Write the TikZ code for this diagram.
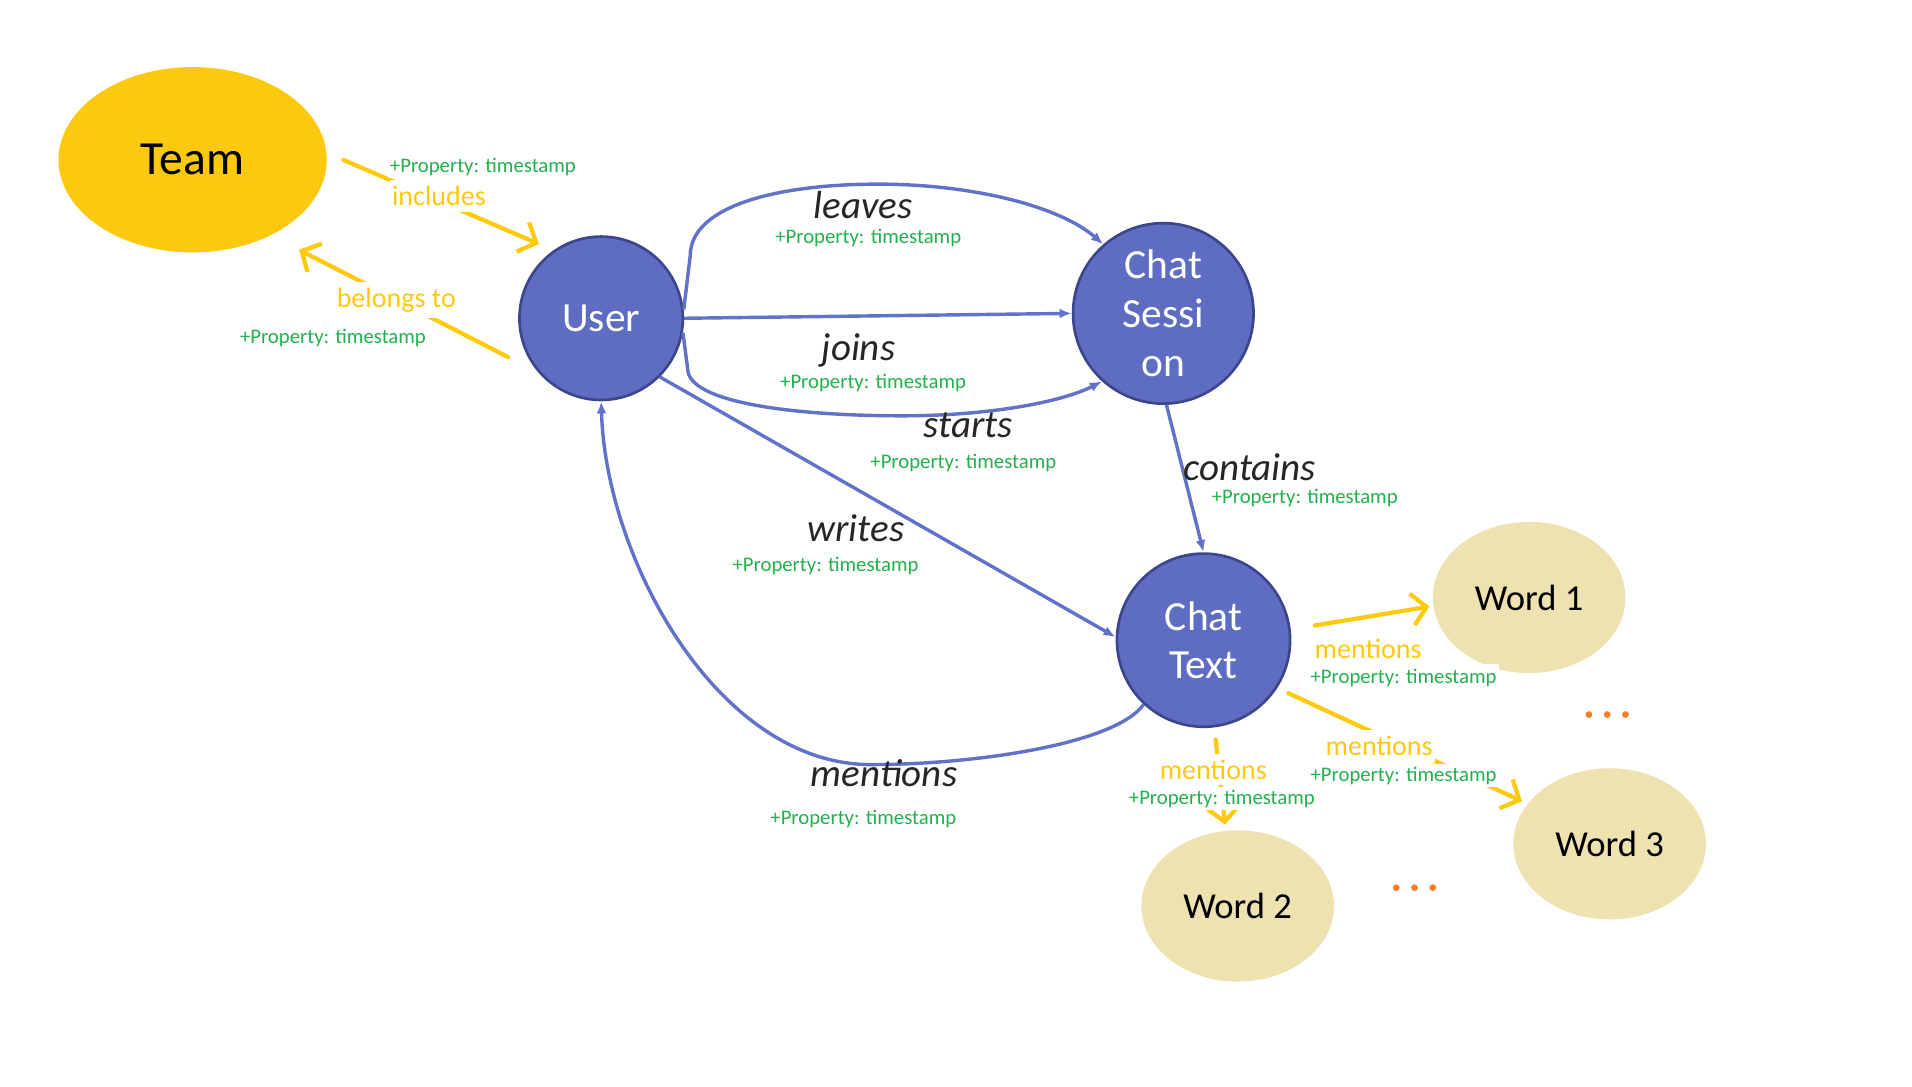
\documentclass[tikz,border=0pt]{standalone}
\usepackage{fontspec}
\setmainfont{Carlito}
\usetikzlibrary{arrows.meta,shapes.geometric}
\definecolor{teamgold}{RGB}{253,201,14}
\definecolor{nodeblue}{RGB}{94,109,193}
\definecolor{ringblue}{RGB}{60,70,140}
\definecolor{edgeblue}{RGB}{98,114,200}
\definecolor{wordtan}{RGB}{238,226,176}
\definecolor{propgreen}{RGB}{34,177,76}
\definecolor{relgold}{RGB}{255,201,14}
\definecolor{dotorange}{RGB}{255,127,39}
\tikzset{> = {Latex[length=10pt,width=8pt]},
  entity/.style={circle,fill=nodeblue,draw=ringblue,line width=2.2pt,text=white,inner sep=0pt,align=center,font=\fontsize{34}{40}\selectfont},
  word/.style={ellipse,fill=wordtan,minimum width=158pt,minimum height=124pt,inner sep=0pt,font=\fontsize{30}{36}\selectfont},
  rel/.style={font=\fontsize{32}{38}\selectfont\itshape,text=black!85,inner sep=1pt},
  prop/.style={font=\fontsize{17}{20}\selectfont,text=propgreen,fill=white,inner sep=2pt},
  yrel/.style={font=\fontsize{23}{27}\selectfont,text=relgold,fill=white,inner xsep=2pt,inner ysep=5pt},
  bedge/.style={draw=edgeblue,line width=2.8pt,->},
  yedge/.style={draw=relgold,line width=3.5pt,line cap=round,-{Straight Barb[length=12pt,width=26pt]}}}

\begin{document}
\begin{tikzpicture}[x=1pt,y=-1pt]
\useasboundingbox (0,0) rectangle (1568,891);
\node[ellipse,fill=teamgold,minimum width=220pt,minimum height=152pt,inner sep=0pt,font=\fontsize{39}{46}\selectfont] (team) at (158,131) {Team};
\node[entity,minimum size=134pt] (user) at (493,261) {User};
\node[entity,minimum size=148pt] (session) at (954,257) {Chat\\Sessi\\on};
\node[entity,minimum size=142pt] (ctext) at (987,525) {Chat\\Text};
\node[word] (w1) at (1254,490) {Word 1};
\node[word] (w2) at (1015,743) {Word 2};
\node[word] (w3) at (1320,692) {Word 3};
\foreach \x in {0,15,30} {
  \fill[dotorange] (1303+\x,586) circle (2.8);
  \fill[dotorange] (1145+\x,728) circle (2.8);
}
% graph edges
\draw[bedge] (user.6) -- (566,210) .. controls (566,168) and (640,151) .. (720,151) .. controls (800,151) and (870,170) .. (session.131);
\draw[bedge] (user.east) -- (session.west);
\draw[bedge] (user.-10) -- (564,303) .. controls (565,330) and (650,341) .. (740,341) .. controls (810,341) and (870,330) .. (session.228);
\draw[bedge] (user.-45) -- (ctext.178);
\draw[bedge] (session.-88) -- (ctext.north);
\draw[bedge] (ctext.227) .. controls (915,610) and (800,627) .. (715,627) .. controls (590,628) and (497,460) .. (user.south);
% team and words
\draw[yedge,shorten <=15pt,shorten >=13pt] (team.3) -- (user.125);
\draw[yedge,shorten <=28pt,shorten >=26pt] (user.221) -- (team.-44);
\draw[yedge,shorten <=20pt,shorten >=3pt] (ctext.7) -- (w1.185);
\draw[yedge,shorten <=10pt,shorten >=5pt] (ctext.-83) -- (w2.99);
\draw[yedge,shorten <=10pt,shorten >=5pt] (ctext.-33) -- (w3.154);
\node[rel] (leaves) at (708,168) {leaves};
\node[prop] (leavesp) at (712,195) {+Property: timestamp};
\node[rel] (joins) at (704,287) {joins};
\node[prop] (joinsp) at (716,314) {+Property: timestamp};
\node[rel] (starts) at (794,349) {starts};
\node[prop] (startsp) at (790,380) {+Property: timestamp};
\node[rel] (contains) at (1025,383) {contains};
\node[prop] (containsp) at (1070,408) {+Property: timestamp};
\node[rel] (writes) at (702,433) {writes};
\node[prop] (writesp) at (677,464) {+Property: timestamp};
\node[rel] (ment) at (725,634) {mentions};
\node[prop] (mentp) at (708,672) {+Property: timestamp};
\node[yrel] (incl) at (360,161) {includes};
\node[prop] (inclp) at (396,137) {+Property: timestamp};
\node[yrel] (belongs) at (325,246) {belongs to};
\node[prop] (belongsp) at (273,277) {+Property: timestamp};
\node[yrel] (ment1) at (1122,532) {mentions};
\node[prop,inner ysep=4pt] (ment1p) at (1151,556) {+Property: timestamp};
\node[yrel] (ment3) at (1131,612) {mentions};
\node[prop] (ment3p) at (1151,636) {+Property: timestamp};
\node[yrel] (ment2) at (995,631) {mentions};
\node[prop] (ment2p) at (1002,655) {+Property: timestamp};
\end{tikzpicture}
\end{document}
